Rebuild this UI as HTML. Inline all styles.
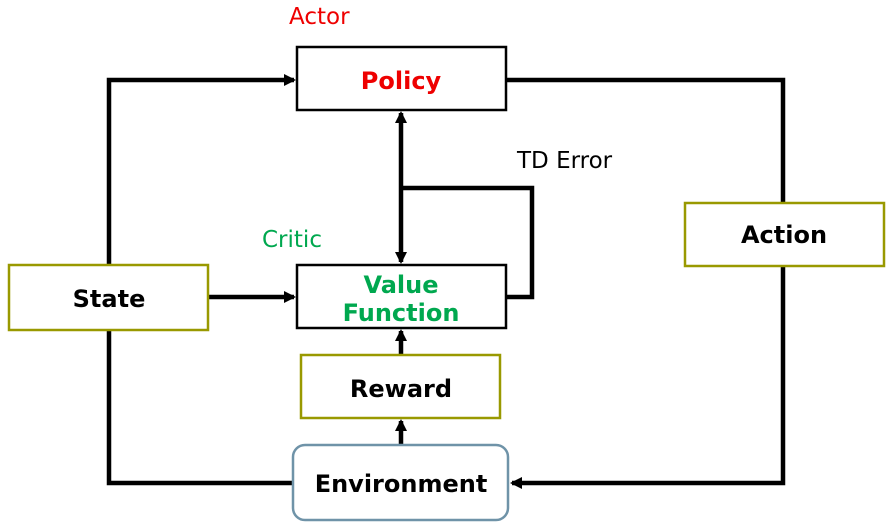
<!DOCTYPE html>
<html><head><style>
body{margin:0;background:#fff;}
svg{display:block;font-family:"DejaVu Sans","Liberation Sans",sans-serif;}
</style></head><body>
<svg width="896" height="526" viewBox="0 0 896 526">
<defs>
<marker id="a" markerWidth="12" markerHeight="12" refX="10" refY="6" orient="auto" markerUnits="userSpaceOnUse">
<path d="M0,0 L12,6 L0,12 z" fill="#000"/></marker>
</defs>
<g stroke="#000" stroke-width="4.5" fill="none">
<polyline points="109,266 109,80 294,80" marker-end="url(#a)"/>
<polyline points="506,80 783,80 783,203"/>
<polyline points="783,266 783,483 512,483" marker-end="url(#a)"/>
<polyline points="292,483 109,483 109,330"/>
<line x1="401" y1="188" x2="401" y2="113" marker-end="url(#a)"/>
<line x1="401" y1="188" x2="401" y2="262" marker-end="url(#a)"/>
<polyline points="401,188 532,188 532,297 506,297"/>
<line x1="208" y1="297" x2="294" y2="297" marker-end="url(#a)"/>
<line x1="401" y1="355" x2="401" y2="331" marker-end="url(#a)"/>
<line x1="401" y1="445" x2="401" y2="421" marker-end="url(#a)"/>
</g>
<g stroke-width="2.5" fill="#fff">
<rect x="297" y="47" width="209" height="63" stroke="#000"/>
<rect x="297" y="265" width="209" height="63" stroke="#000"/>
<rect x="9" y="265" width="199" height="65" stroke="#999900"/>
<rect x="685" y="203" width="199" height="63" stroke="#999900"/>
<rect x="301" y="355" width="199" height="63" stroke="#999900"/>
<rect x="293" y="445" width="215" height="75" rx="12" stroke="#6f93a8"/>
</g>
<g font-weight="bold" font-size="24" text-anchor="middle">
<text x="401" y="89" fill="#ee0000">Policy</text>
<text x="401" y="293" fill="#00a84f">Value</text>
<text x="401" y="321" fill="#00a84f">Function</text>
<text x="109" y="307">State</text>
<text x="784" y="243">Action</text>
<text x="401" y="397">Reward</text>
<text x="401" y="492">Environment</text>
</g>
<g font-size="23">
<text x="289" y="24" fill="#ee0000">Actor</text>
<text x="262" y="247" fill="#00a84f">Critic</text>
<text x="517" y="168" fill="#000">TD Error</text>
</g>
</svg>
</body></html>
